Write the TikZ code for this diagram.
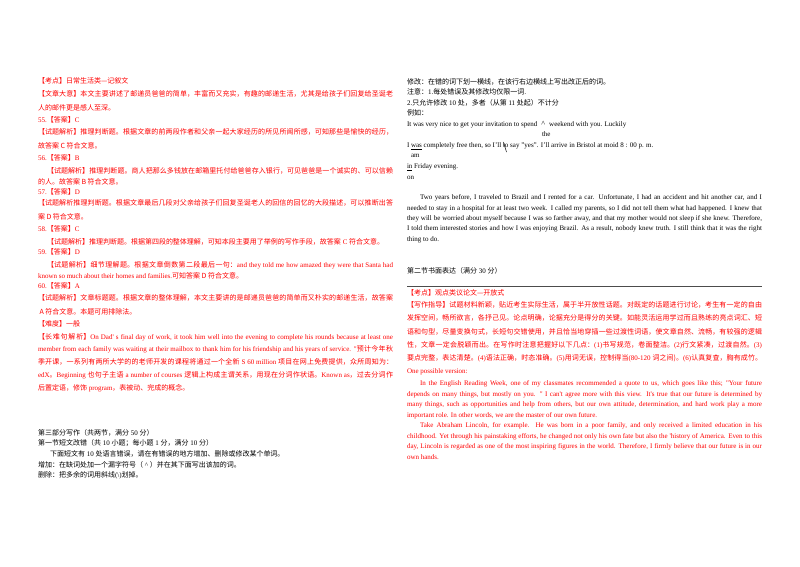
\documentclass[tikz,border=0pt]{standalone}
\usepackage{fontspec}
\usetikzlibrary{positioning}
\setmainfont{Liberation Serif}
\newfontfamily\cjk{Noto Sans CJK SC}
\newfontfamily\latred[Color=FF0000]{Liberation Serif}
\newfontfamily\cjkred[Color=FF0000]{Noto Sans CJK SC}
\XeTeXlinebreaklocale "zh"
\XeTeXlinebreakskip=0pt plus 2pt minus 0.4pt
\definecolor{rulegray}{rgb}{0.3,0.3,0.3}
\newcommand{\zh}[1]{{\cjk #1}}
% one line set to a given width
\newcommand{\jl}[2]{\parbox[t]{#1}{\parfillskip=0pt\relax #2}}
\newcommand{\wl}[1]{\jl{355pt}{#1}}
\newcommand{\il}[1]{\jl{346pt}{#1}}
\tikzset{
  txt/.style={anchor=base west,inner sep=0pt,outer sep=0pt,font=\fontsize{7}{9}\selectfont},
  ans/.style={txt,font=\fontsize{7}{9}\selectfont\latred,execute at begin node={\let\cjk\cjkred}},
  que/.style={txt}
}
\begin{document}
\begin{tikzpicture}[x=1pt,y=-1pt]
      \useasboundingbox (0,0) rectangle (800,566);
      \fill[white] (0,0) rectangle (800,566);
      % left column
      \node[ans] (a1) at (38,83.5) {\zh{【考点】日常生活类—记叙文}};
      \node[ans] (a2) at (38,96.5) {\wl{\zh{【文章大意】本文主要讲述了邮递员爸爸的简单，丰富而又充实，有趣的邮递生活，尤其是给孩子们回复给圣诞老}}};
      \node[ans] (a3) at (38,110.5) {\zh{人的邮件更是感人至深。}};
      \node[ans] (a4) at (38,122.5) {55.\zh{【答案】}C};
      \node[ans] (a5) at (38,134.5) {\wl{\zh{【试题解析】推理判断题。根据文章的前两段作者和父亲一起大家经历的所见所闻所感，可知那些是愉快的经历，}}};
      \node[ans] (a6) at (38,148.5) {\zh{故答案 C 符合文意。}};
      \node[ans] (a7) at (38,160.5) {56.\zh{【答案】}B};
      \node[ans] (a8) at (47,173.5) {\il{\zh{【试题解析】推理判断题。商人把那么多钱放在邮箱里托付给爸爸存入银行，可见爸爸是一个诚实的、可以信赖}}};
      \node[ans] (a9) at (38,184.5) {\zh{的人。故答案 B 符合文意。}};
      \node[ans] (a10) at (38,194.5) {57.\zh{【答案】}D};
      \node[ans] (a11) at (38,205.5) {\wl{\zh{【试题解析推理判断题。根据文章最后几段对父亲给孩子们回复圣诞老人的回信的回忆的大段描述，可以推断出答}}};
      \node[ans] (a12) at (38,219.5) {\zh{案 D 符合文意。}};
      \node[ans] (a13) at (38,231.5) {58.\zh{【答案】}C};
      \node[ans] (a14) at (47,244.5) {\zh{【试题解析】推理判断题。根据第四段的整体理解，可知本段主要用了举例的写作手段，故答案} C \zh{符合文意。}};
      \node[ans] (a15) at (38,254.5) {59.\zh{【答案】}D};
      \node[ans] (a16) at (47,267.5) {\il{\zh{【试题解析】细节理解题。根据文章倒数第二段最后一句：}and they told me how amazed they were that Santa had}};
      \node[ans] (a17) at (38,278.5) {known so much about their homes and families.\zh{可知答案 D 符合文意。}};
      \node[ans] (a18) at (38,288.5) {60.\zh{【答案】}A};
      \node[ans] (a19) at (38,300.5) {\wl{\zh{【试题解析】文章标题题。根据文章的整体理解，本文主要讲的是邮递员爸爸的简单而又朴实的邮递生活，故答案}}};
      \node[ans] (a20) at (38,314.5) {\zh{ A 符合文意。本题可用排除法。}};
      \node[ans] (a21) at (38,326.5) {\zh{【难度】一般}};
      \node[ans] (a22) at (38,339.5) {\wl{\zh{【长难句解析】}On Dad' s final day of work, it took him well into the evening to complete his rounds because at least one}};
      \node[ans] (a23) at (38,351.5) {\wl{member from each family was waiting at their mailbox to thank him for his friendship and his years of service. "\zh{预计今年秋}}};
      \node[ans] (a24) at (38,364.5) {\wl{\zh{季开课，一系列有两所大学的的老师开发的课程将通过一个全新} S 60 million \zh{项目在网上免费提供，众所周知为：}}};
      \node[ans] (a25) at (38,377.5) {\wl{edX\zh{。}Beginning \zh{也句子主语} a number of courses \zh{逻辑上构成主谓关系，用现在分词作状语。}Known as\zh{，过去分词作}}};
      \node[ans] (a26) at (38,390.5) {\zh{后置定语，修饰} program\zh{，表被动、完成的概念。}};
      \node[que] (b1) at (38,435.5) {\zh{第三部分写作（共两节，满分} 50 \zh{分）}};
      \node[que] (b2) at (38,445.5) {\zh{第一节短文改错（共} 10 \zh{小题；每小题} 1 \zh{分，满分} 10 \zh{分）}};
      \node[que] (b3) at (50,456.5) {\zh{下面短文有} 10 \zh{处语言错误，请在有错误的地方增加、删除或修改某个单词。}};
      \node[que] (b4) at (38,467.5) {\zh{增加：在缺词处加一个漏字符号（} \textasciicircum\ \zh{）并在其下面写出该加的词。}};
      \node[que] (b5) at (38,477.5) {\zh{删除：把多余的词用斜线}(\textbackslash)\zh{划掉。}};
      % right column
      \node[que] (c1) at (407,84.5) {\zh{修改：在错的词下划一横线，在该行右边横线上写出改正后的词。}};
      \node[que] (c2) at (407,94.5) {\zh{注意：}1.\zh{每处错误及其修改均仅限一词.}};
      \node[que] (c3) at (407,105.5) {2.\zh{只允许修改} 10 \zh{处，多者（从第} 11 \zh{处起）不计分}};
      \node[que] (c4) at (407,115.5) {\zh{例如：}};
      \node[que] (c5) at (407,126.5) {It was very nice to get your invitation to spend\hspace{4pt}{\fontsize{8}{8}\selectfont\textasciicircum}\hspace{4pt}weekend with you. Luckily};
      \node[que] (c6) at (542,136.5) {the};
      \node[que] (c7) at (407,147.5) {I \underline{was} completely free then, so I'll to say "yes". I'll arrive in Bristol at moid 8 : 00 p. m.};
      \draw[line width=0.5pt] (503.5,142) -- (506.5,152);
      \node[que] (c8) at (411,157.5) {am};
      \node[que] (c9) at (407,168.5) {\underline{in} Friday evening.};
      \node[que] (c10) at (407,179.5) {on};
      \node[que] (d1) at (420,199.5) {\jl{342pt}{Two years before, I traveled to Brazil and I rented for a car. Unfortunate, I had an accident and hit another car, and I}};
      \node[que] (d2) at (407,210.5) {\jl{355pt}{needed to stay in a hospital for at least two week. I called my parents, so I did not tell them what had happened. I knew that}};
      \node[que] (d3) at (407,220.5) {\jl{355pt}{they will be worried about myself because I was so farther away, and that my mother would not sleep if she knew. Therefore,}};
      \node[que] (d4) at (407,230.5) {\jl{355pt}{I told them interested stories and how I was enjoying Brazil. As a result, nobody knew truth. I still think that it was the right}};
      \node[que] (d5) at (407,241.5) {thing to do.};
      \node[que] (d6) at (407,273.5) {\zh{第二节书面表达（满分} 30 \zh{分）}};
      \draw[rulegray,line width=1pt] (407,286.5) -- (762,286.5);
      \node[ans] (e1) at (407,295.5) {\zh{【考点】观点类议论文—开放式}};
      \node[ans] (e2) at (407,307.5) {\jl{355pt}{\zh{【写作指导】试题材料新颖，贴近考生实际生活，属于半开放性话题。对既定的话题进行讨论，考生有一定的自由}}};
      \node[ans] (e3) at (407,320.5) {\jl{355pt}{\zh{发挥空间，畅所欲言，各抒己见。论点明确，论据充分是得分的关键。如能灵活运用学过而且熟练的亮点词汇、短}}};
      \node[ans] (e4) at (407,334.5) {\jl{355pt}{\zh{语和句型，尽量变换句式，长短句交错使用，并且恰当地穿插一些过渡性词语，使文章自然、流畅，有较强的逻辑}}};
      \node[ans] (e5) at (407,347.5) {\jl{355pt}{\zh{性，文章一定会脱颖而出。在写作时注意把握好以下几点：}(1)\zh{书写规范，卷面整洁。}(2)\zh{行文紧凑，过渡自然。}(3)}};
      \node[ans] (e6) at (407,360.5) {\jl{355pt}{\zh{要点完整，表达清楚。}(4)\zh{语法正确，时态准确。}(5)\zh{用词无误，控制得当}(80-120 \zh{词之间)。}(6)\zh{认真复查，胸有成竹。}}};
      \node[ans] (e7) at (407,373) {One possible version:};
      \node[ans] (f1) at (420,385.5) {\jl{342pt}{In the English Reading Week, one of my classmates recommended a quote to us, which goes like this; "Your future}};
      \node[ans] (f2) at (407,396.5) {\jl{355pt}{depends on many things, but mostly on you. " I can't agree more with this view. It's true that our future is determined by}};
      \node[ans] (f3) at (407,406.5) {\jl{355pt}{many things, such as opportunities and help from others, but our own attitude, determination, and hard work play a more}};
      \node[ans] (f4) at (407,417.5) {important role. In other words, we are the master of our own future.};
      \node[ans] (f5) at (420,427.5) {\jl{342pt}{Take Abraham Lincoln, for example. He was born in a poor family, and only received a limited education in his}};
      \node[ans] (f6) at (407,438.5) {\jl{355pt}{childhood. Yet through his painstaking efforts, he changed not only his own fate but also the 'history of America. Even to this}};
      \node[ans] (f7) at (407,448.5) {\jl{355pt}{day, Lincoln is regarded as one of the most inspiring figures in the world. Therefore, I firmly believe that our future is in our}};
      \node[ans] (f8) at (407,459.5) {own hands.};
    \end{tikzpicture}
\end{document}
